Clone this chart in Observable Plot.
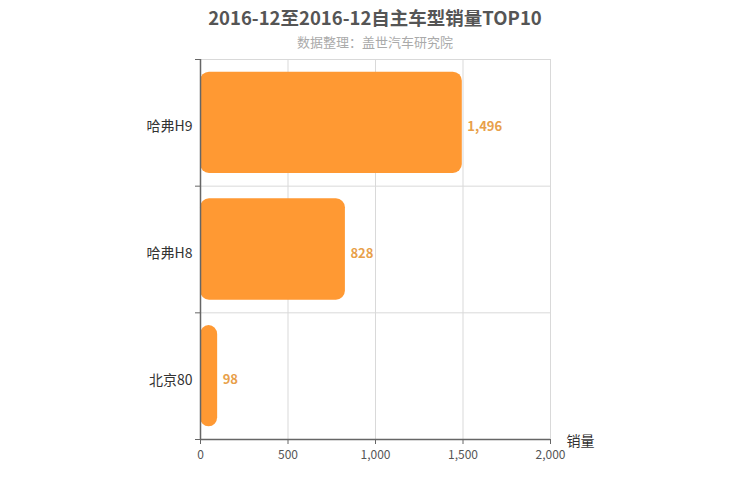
<!DOCTYPE html>
<html>
<head>
<meta charset="utf-8">
<script src="https://cdn.jsdelivr.net/npm/d3@7"></script>
<script src="https://cdn.jsdelivr.net/npm/@observablehq/plot@0.6"></script>
<style>
  html, body { margin: 0; padding: 0; background: #fff; }
  body { width: 750px; height: 500px; overflow: hidden; font-family: "Noto Sans CJK SC", "Noto Sans", sans-serif; }
  #head { height: 52px; position: relative; }
  #title { position: absolute; left: 0; width: 750px; top: 4px; text-align: center; font-size: 18.5px; font-weight: bold; color: #555; line-height: 26px; }
  #subtitle { position: absolute; left: 0; width: 750px; top: 33px; text-align: center; font-size: 13px; color: #aaa; line-height: 18px; }
</style>
</head>
<body>
<div id="head">
  <div id="title">2016-12至2016-12自主车型销量TOP10</div>
  <div id="subtitle">数据整理：盖世汽车研究院</div>
</div>
<div id="chart"></div>
<script>
const categories = ["哈弗H9", "哈弗H8", "北京80"];
const sales = [1496, 828, 98];
const xTicks = [0, 500, 1000, 1500, 2000];
const axisTitle = "销量";

const fmt = d3.format(",");
const rows = categories.map((name, i) => ({ name, i, value: sales[i] }));
const bounds = d3.range(categories.length + 1);
const centers = categories.map((_, i) => i + 0.5);

const chart = Plot.plot({
  width: 750,
  height: 448,
  marginTop: 7,
  marginBottom: 61,
  marginLeft: 200,
  marginRight: 200,
  style: { fontFamily: "'Noto Sans CJK SC', 'Noto Sans', sans-serif", background: "transparent" },
  x: { domain: [0, 2000] },
  y: { domain: [0, categories.length], reverse: true },
  marks: [
    Plot.ruleX(xTicks.slice(1), { stroke: "#d9d9d9", strokeWidth: 1 }),
    Plot.ruleY(bounds.slice(0, -1), { stroke: "#d9d9d9", strokeWidth: 1 }),
    Plot.rectX(rows, { x1: 0, x2: "value", y1: d => d.i + 0.1, y2: d => d.i + 0.9, fill: "#FF9933", rx: 9 }),
    Plot.text(rows, { x: "value", y: d => d.i + 0.5, text: d => fmt(d.value), textAnchor: "start", dx: 5, dy: 4, fill: "#E8A04A", fontSize: 13, fontWeight: "bold" }),
    Plot.ruleX([0], { stroke: "#666", strokeWidth: 1.5 }),
    Plot.ruleY([categories.length], { stroke: "#666", strokeWidth: 1.5 }),
    Plot.axisX({ ticks: xTicks, tickFormat: v => fmt(v), tickSize: 5, tickPadding: 6, stroke: "#666", fill: "#555", fontSize: 12, label: null }),
    Plot.axisY({ ticks: bounds, tickFormat: () => "", tickSize: 5, stroke: "#666", label: null }),
    Plot.axisY({ ticks: centers, tickFormat: v => categories[Math.round(v - 0.5)], tickSize: 0, tickPadding: 8, dy: 4, fill: "#333", fontSize: 14, label: null }),
    Plot.text([axisTitle], { frameAnchor: "bottom-right", dx: 30, dy: 6, text: d => d, fontSize: 14, fill: "#333", textAnchor: "middle" })
  ]
});
document.getElementById("chart").appendChild(chart);
</script>
</body>
</html>
